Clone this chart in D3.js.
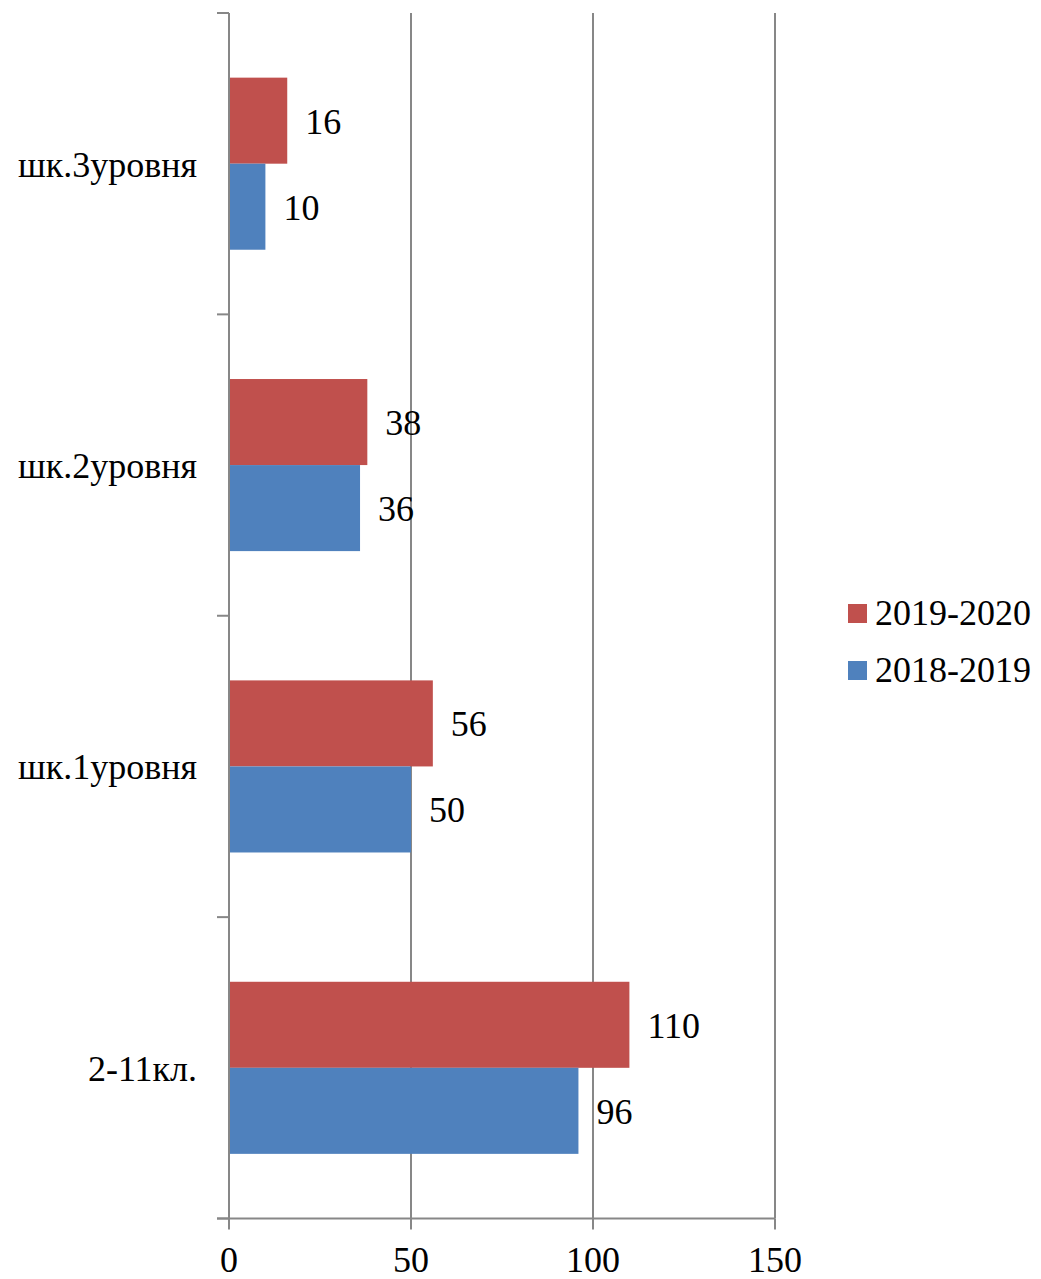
<!DOCTYPE html>
<html><head><meta charset="utf-8">
<script src="https://cdn.jsdelivr.net/npm/d3@7"></script>
<style>body{margin:0;background:#fff}svg{display:block}</style>
</head><body>
<script>
const categories = ["2-11кл.", "шк.1уровня", "шк.2уровня", "шк.3уровня"];
const series = ["2019-2020", "2018-2019"];
const values2019_2020 = [110, 56, 38, 16];
const values2018_2019 = [96, 50, 36, 10];
const xTicks = [0, 50, 100, 150];
const colors = {"2019-2020": "#C0504D", "2018-2019": "#4F81BD"};
const seriesValues = {"2019-2020": values2019_2020, "2018-2019": values2018_2019};

const W = 1041, H = 1279;
const mLeft = 229, mRight = 775, mTop = 13, mBottom = 1218.5;
const FONT = "Tinos, 'Liberation Serif', 'Times New Roman', Times, 'DejaVu Serif', 'Noto Serif', serif";
const FS = 36;
const svg = d3.select("body").append("svg").attr("width", W).attr("height", H)
  .style("font-family", FONT).attr("font-size", FS);

const x = d3.scaleLinear().domain([0, 150]).range([mLeft, mRight]);
const topDown = categories.slice().reverse();
const pInner = 0.429;
const y = d3.scaleBand().domain(topDown).range([mTop, mBottom]).paddingInner(pInner).paddingOuter(pInner / 2);
const y1 = d3.scaleBand().domain(series).range([0, y.bandwidth()]);
const step = y.step();
const gridColor = "#878787";

function txt(sel) { return sel.style("font-family", FONT).attr("font-size", FS).attr("fill", "#000"); }

// gridlines
svg.append("g").selectAll("line").data(xTicks.filter(d => d > 0)).join("line")
  .attr("x1", d => x(d)).attr("x2", d => x(d)).attr("y1", mTop).attr("y2", mBottom)
  .attr("stroke", gridColor).attr("stroke-width", 2);

// bars
const g = svg.append("g");
categories.forEach((c, i) => {
  series.forEach(s => {
    const v = seriesValues[s][i];
    const by = y(c) + y1(s);
    g.append("rect").attr("x", x(0)).attr("y", by).attr("width", x(v) - x(0)).attr("height", y1.bandwidth())
      .attr("fill", colors[s]);
    txt(g.append("text").attr("x", x(v) + 18).attr("y", by + y1.bandwidth() / 2 + 13)).text(v);
  });
});

// left axis
svg.append("line").attr("x1", mLeft).attr("x2", mLeft).attr("y1", mTop).attr("y2", mBottom)
  .attr("stroke", gridColor).attr("stroke-width", 2);
const bounds = topDown.map(c => y(c) - step * pInner / 2).concat([mBottom]);
svg.append("g").selectAll("line").data(bounds).join("line")
  .attr("x1", mLeft - 12).attr("x2", mLeft).attr("y1", d => d).attr("y2", d => d)
  .attr("stroke", gridColor).attr("stroke-width", 2);
txt(svg.append("g").selectAll("text").data(categories).join("text")
  .attr("x", mLeft - 32).attr("y", d => y(d) + y.bandwidth() / 2 + 13)
  .attr("text-anchor", "end")).text(d => d);

// bottom axis
svg.append("line").attr("x1", mLeft - 12).attr("x2", mRight).attr("y1", mBottom).attr("y2", mBottom)
  .attr("stroke", gridColor).attr("stroke-width", 2);
svg.append("g").selectAll("line").data(xTicks).join("line")
  .attr("x1", d => x(d)).attr("x2", d => x(d)).attr("y1", mBottom).attr("y2", mBottom + 11)
  .attr("stroke", gridColor).attr("stroke-width", 2);
txt(svg.append("g").selectAll("text").data(xTicks).join("text")
  .attr("x", d => x(d)).attr("y", 1272).attr("text-anchor", "middle")).text(d => d);

// legend
const lg = svg.append("g");
series.forEach((s, i) => {
  const ly = 604 + i * 57;
  lg.append("rect").attr("x", 848).attr("y", ly).attr("width", 19).attr("height", 19).attr("fill", colors[s]);
  txt(lg.append("text").attr("x", 875).attr("y", ly + 21)).text(s);
});
</script>
</body></html>
